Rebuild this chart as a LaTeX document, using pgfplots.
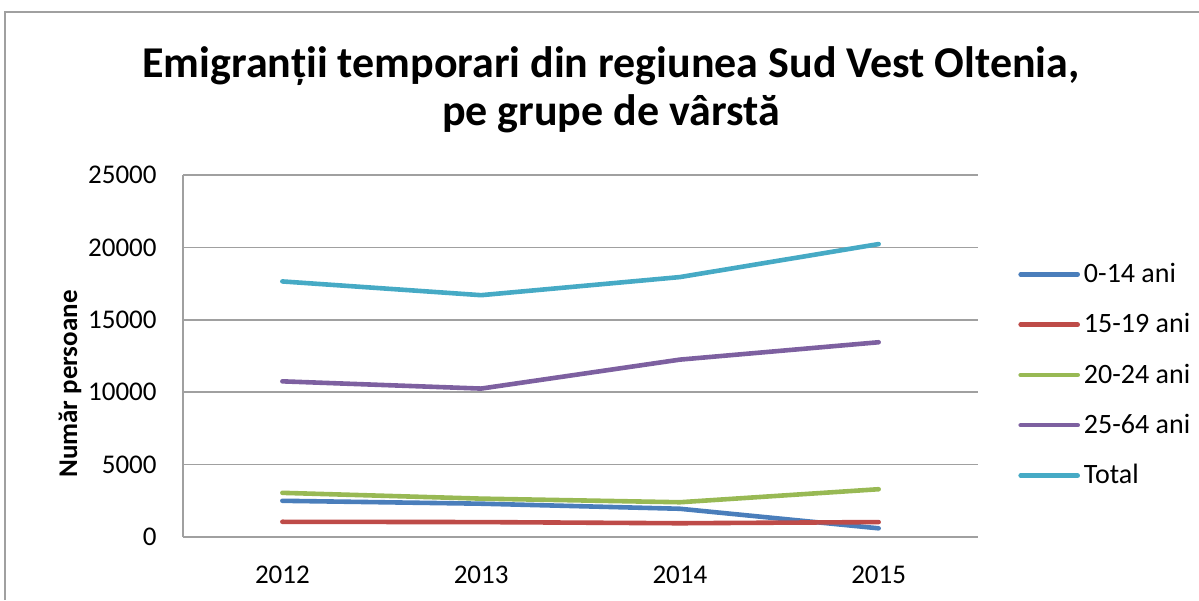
\documentclass[border=0pt]{standalone}
\usepackage{pgfplots}
\pgfplotsset{compat=1.18}
\usepackage{fontspec}
\setmainfont{Carlito}
\definecolor{c1}{HTML}{4A7EBB}
\definecolor{c2}{HTML}{BE4B48}
\definecolor{c3}{HTML}{98B954}
\definecolor{c4}{HTML}{7D60A0}
\definecolor{c5}{HTML}{46AAC5}
\definecolor{gridc}{HTML}{A0A0A0}
\begin{document}
\begin{tikzpicture}
\useasboundingbox (0,0) rectangle (599.5pt,300pt);
\draw[gridc, line width=1pt] (2.5pt,0) -- (2.5pt,294pt) -- (599.5pt,294pt);
\node[font=\bfseries\fontsize{22}{24}\selectfont, align=center] at (305.5pt,255pt)
  {Emigranții temporari din regiunea Sud Vest Oltenia,\\pe grupe de vârstă};
\begin{axis}[
  at={(91.5pt,31.5pt)}, anchor=south west,
  scale only axis, width=397.5pt, height=181pt,
  xmin=-0.5, xmax=3.5, ymin=0, ymax=25000,
  xtick={0,1,2,3}, xticklabels={2012,2013,2014,2015},
  ytick={0,5000,10000,15000,20000,25000},
  major tick length=0pt,
  axis x line*=bottom, axis y line*=left,
  axis line style={gridc, line width=0.8pt},
  ymajorgrids, grid style={gridc, line width=0.8pt},
  separate axis lines,
  x axis line style={-}, y axis line style={-},
  tick label style={font=\fontsize{13.5}{15}\selectfont},
  xticklabel style={anchor=center, yshift=-19pt},
  yticklabel style={anchor=east, inner sep=0pt, xshift=-13pt},
  /pgf/number format/assume math mode=true,
  scaled y ticks=false,
  yticklabel={\pgfmathprintnumber[fixed, 1000 sep={}]{\tick}},
  ylabel={Număr persoane},
  ylabel style={font=\bfseries\fontsize{13.5}{15}\selectfont, at={(axis description cs:-0.1420,0.4227)}, anchor=center},
  legend style={draw=none, fill=none, at={(rel axis cs:1.0503,0.4475)}, anchor=west,
    font=\fontsize{14}{16}\selectfont, row sep=10pt, inner sep=0pt},
  legend cell align=left,
  legend image code/.code={\draw[#1, line width=2.3pt, line cap=round] (0pt,0pt) -- (28.5pt,0pt);},
  every axis plot/.append style={line width=2.3pt, line cap=round, line join=round},
]
\addplot[c1] coordinates {(0,2500) (1,2300) (2,1950) (3,600)};
\addplot[c2] coordinates {(0,1050) (1,1030) (2,950) (3,1030)};
\addplot[c3] coordinates {(0,3050) (1,2650) (2,2400) (3,3300)};
\addplot[c4] coordinates {(0,10750) (1,10250) (2,12250) (3,13450)};
\addplot[c5] coordinates {(0,17650) (1,16700) (2,17950) (3,20230)};
\legend{0-14 ani,15-19 ani,20-24 ani,25-64 ani,Total}
\end{axis}
\end{tikzpicture}
\end{document}
